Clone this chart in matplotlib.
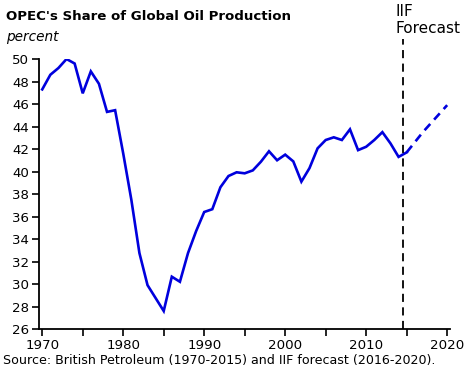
# OPEC share of global oil production, actual + IIF forecast
import matplotlib as mpl
mpl.use('Agg')
import matplotlib.pyplot as plt
import numpy as np

years = list(range(1970, 2016))
share = [47.3, 48.6, 49.2, 50.0, 49.6, 46.95, 48.9, 47.8, 45.3, 45.45,
         41.6, 37.5, 32.75, 29.9, 28.75, 27.6, 30.65, 30.2, 32.75, 34.7,
         36.4, 36.65, 38.6, 39.6, 39.93, 39.84, 40.1, 40.87, 41.8, 41.0,
         41.5, 40.9, 39.1, 40.3, 42.06, 42.8, 43.04, 42.8, 43.75, 41.9,
         42.2, 42.8, 43.5, 42.5, 41.3, 41.7]
fc_years = [2015, 2016, 2017, 2018, 2019, 2020]
fc_share = [41.7, 42.6, 43.5, 44.3, 45.1, 45.9]

yticks = list(range(26, 51, 2))
xticks = [1970, 1980, 1990, 2000, 2010, 2020]

blue = '#0000DD'

fig = plt.figure(figsize=(4.71, 3.74), dpi=100)
ax = fig.add_axes([0.0828, 0.1203, 0.8726, 0.7219])

ax.plot(years, share, color=blue, lw=1.9, solid_joinstyle='miter')
ax.plot(fc_years, fc_share, color=blue, lw=1.9, ls=(0, (3.2, 2.2)))

ax.plot([2014.6, 2014.6], [26, 51.8], color='black', lw=1.3,
        ls=(0, (4.5, 3)), clip_on=False)

ax.set_xlim(1969.6, 2020.35)
ax.set_ylim(26, 50)
ax.set_yticks(yticks)
ax.set_xticks(xticks)
ax.set_xticks(list(range(1975, 2020, 10)), minor=True)
for s in ['top', 'right']:
    ax.spines[s].set_visible(False)
for s in ['left', 'bottom']:
    ax.spines[s].set_linewidth(1.3)
ax.tick_params(which='both', direction='out', length=5, width=1.2,
               labelsize=9.6, pad=2)

fig.text(0.012, 0.955, "OPEC's Share of Global Oil Production",
         fontsize=9.6, fontweight='bold', va='center')
fig.text(0.012, 0.9, 'percent', fontsize=9.8, style='italic', va='center')
fig.text(0.84, 0.968, 'IIF', fontsize=11, va='center')
fig.text(0.84, 0.925, 'Forecast', fontsize=11, va='center')
fig.text(0.006, 0.035, 'Source: British Petroleum (1970-2015) and IIF forecast (2016-2020).',
         fontsize=9.1, va='center')

fig.savefig('out.png', dpi=100)
